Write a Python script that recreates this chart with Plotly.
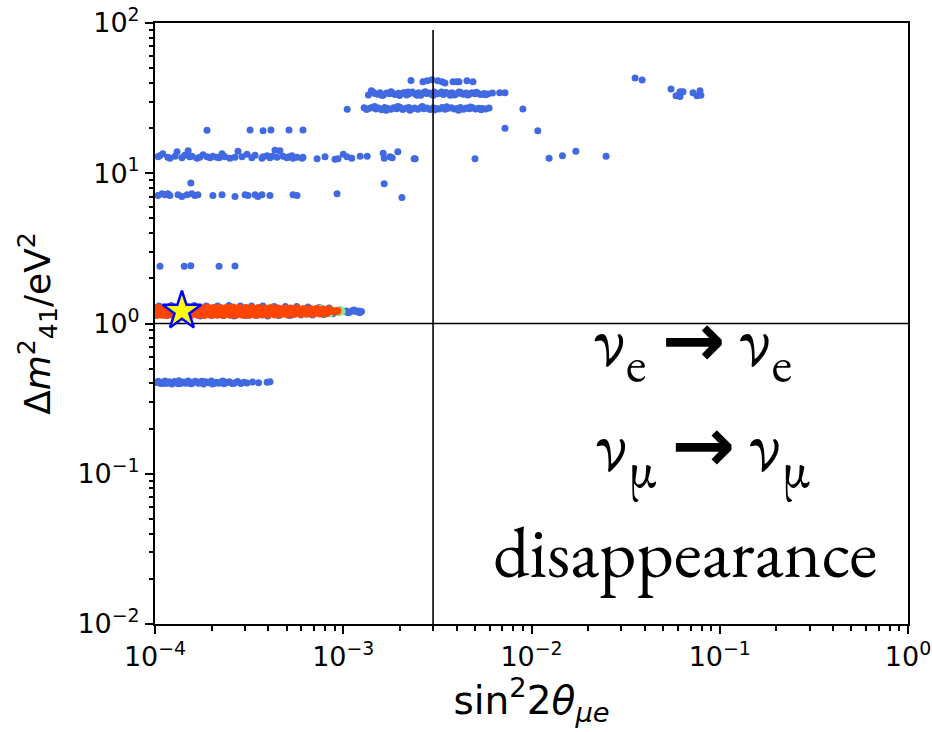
import plotly.graph_objects as go

# ---------------- data ----------------
# blue points: band near dm2 ~ 13 eV^2
b13_x = [1.037e-4, 1.06e-4, 1.10e-4, 1.17e-4, 1.20e-4, 1.28e-4, 1.31e-4, 1.39e-4, 1.44e-4, 1.50e-4,
         1.53e-4, 1.57e-4, 1.67e-4, 1.73e-4, 1.80e-4, 1.89e-4, 1.96e-4, 2.03e-4, 2.13e-4, 2.19e-4,
         2.27e-4, 2.35e-4, 2.50e-4, 2.66e-4, 2.76e-4, 2.90e-4, 3.08e-4, 3.27e-4, 3.40e-4, 3.70e-4,
         3.75e-4, 3.94e-4, 4.08e-4, 4.19e-4, 4.34e-4, 4.45e-4, 4.61e-4, 4.79e-4, 5.02e-4, 5.15e-4,
         5.34e-4, 5.41e-4, 5.68e-4, 6.04e-4, 6.11e-4, 7.26e-4, 8.00e-4, 9.04e-4, 9.38e-4, 1.00e-3,
         1.047e-3, 1.11e-3, 1.23e-3, 1.34e-3, 1.63e-3, 1.65e-3, 1.77e-3, 1.82e-3, 1.95e-3, 2.38e-3,
         2.41e-3, 5.01e-3, 1.24e-2, 1.46e-2, 1.72e-2, 2.49e-2]
b13_y = [12.9, 13.1, 13.5, 12.8, 12.6, 13.0, 13.9, 12.7, 13.2, 14.1,
         12.9, 13.0, 12.6, 12.8, 13.3, 12.9, 12.7, 13.0, 12.8, 12.7,
         13.5, 12.9, 12.6, 12.8, 14.0, 12.9, 13.4, 12.7, 13.2, 12.6,
         12.9, 13.1, 12.7, 13.0, 14.2, 12.8, 14.1, 13.0, 12.7, 12.9,
         13.1, 12.6, 12.8, 12.6, 12.8, 12.5, 12.9, 12.4, 12.5, 13.4,
         12.9, 12.6, 13.0, 13.0, 13.6, 12.6, 12.9, 12.7, 13.9, 12.5,
         12.5, 12.5, 12.6, 13.1, 14.0, 13.0]

# blue points: band near 7.2 eV^2 and stragglers
b7_x = [1.037e-4, 1.09e-4, 1.13e-4, 1.17e-4, 1.20e-4, 1.325e-4, 1.39e-4, 1.48e-4, 1.57e-4, 1.63e-4,
        1.69e-4, 2.03e-4, 2.27e-4, 2.66e-4, 3.01e-4, 3.12e-4, 3.40e-4, 3.52e-4, 3.70e-4, 4.08e-4,
        5.41e-4, 5.68e-4, 9.27e-4, 1.55e-4, 1.65e-3, 2.05e-3]
b7_y = [7.1, 7.3, 7.2, 7.3, 7.1, 7.2, 7.0, 7.2, 7.3, 7.1,
        7.2, 7.1, 7.2, 7.0, 7.2, 7.1, 7.2, 7.0, 7.2, 7.1,
        7.2, 7.1, 7.3, 8.6, 8.5, 6.9]

# blue points near 19-20 eV^2
b19_x = [1.89e-4, 3.20e-4, 3.75e-4, 4.13e-4, 5.15e-4, 6.11e-4, 7.23e-3, 1.08e-2]
b19_y = [19.3, 19.4, 19.2, 19.4, 19.4, 19.4, 19.9, 19.2]

# blue points near 2.4 eV^2
b24_x = [1.063e-4, 1.43e-4, 1.55e-4, 2.19e-4, 2.66e-4]
b24_y = [2.4, 2.4, 2.42, 2.4, 2.41]

# blue points: band near 0.4 eV^2
b04_x = [1.01e-4, 1.04e-4, 1.07e-4, 1.10e-4, 1.13e-4, 1.16e-4, 1.19e-4, 1.23e-4, 1.27e-4, 1.30e-4,
         1.34e-4, 1.37e-4, 1.42e-4, 1.46e-4, 1.50e-4, 1.55e-4, 1.59e-4, 1.64e-4, 1.70e-4, 1.75e-4,
         1.81e-4, 1.86e-4, 1.93e-4, 1.99e-4, 2.05e-4, 2.12e-4, 2.18e-4, 2.26e-4, 2.33e-4, 2.41e-4,
         2.48e-4, 2.57e-4, 2.66e-4, 2.75e-4, 2.86e-4, 2.97e-4, 3.08e-4, 3.30e-4, 3.55e-4, 3.94e-4,
         4.08e-4, 1.12e-4, 1.33e-4, 1.57e-4, 1.78e-4, 2.02e-4, 2.30e-4, 2.61e-4]
b04_y = [0.405, 0.412, 0.398, 0.407, 0.415, 0.400, 0.409, 0.396, 0.411, 0.404,
         0.416, 0.399, 0.408, 0.401, 0.414, 0.397, 0.406, 0.412, 0.400, 0.409,
         0.396, 0.410, 0.403, 0.414, 0.399, 0.407, 0.401, 0.411, 0.397, 0.405,
         0.409, 0.399, 0.404, 0.411, 0.398, 0.406, 0.402, 0.408, 0.404, 0.407,
         0.410, 0.398, 0.397, 0.399, 0.413, 0.396, 0.414, 0.398]

# blue points: row near 41 eV^2
b41_x = [2.29e-3, 2.65e-3, 2.79e-3, 2.96e-3, 3.18e-3, 3.35e-3, 3.47e-3, 3.83e-3, 4.02e-3, 4.12e-3,
         4.54e-3, 4.89e-3]
b41_y = [41.5, 40.7, 41.3, 41.9, 41.3, 40.7, 39.9, 40.7, 40.7, 40.7, 41.3, 40.7]

# blue points: row near 34 eV^2
b34_x = [1.36e-3, 1.41e-3, 1.47e-3, 1.52e-3, 1.57e-3, 1.63e-3, 1.70e-3, 1.76e-3, 1.81e-3, 1.88e-3,
         1.96e-3, 2.02e-3, 2.10e-3, 2.17e-3, 2.26e-3, 2.33e-3, 2.43e-3, 2.51e-3, 2.58e-3, 2.69e-3,
         2.77e-3, 2.86e-3, 2.97e-3, 3.05e-3, 3.16e-3, 3.27e-3, 3.40e-3, 3.51e-3, 3.63e-3, 3.78e-3,
         3.90e-3, 4.05e-3, 4.19e-3, 4.33e-3, 4.50e-3, 4.66e-3, 4.82e-3, 5.00e-3, 5.19e-3, 5.37e-3,
         5.60e-3, 5.85e-3, 6.20e-3, 6.77e-3, 7.23e-3,
         1.44e-3, 1.60e-3, 1.79e-3, 1.99e-3, 2.21e-3, 2.47e-3, 2.73e-3, 3.01e-3, 3.33e-3, 3.70e-3,
         4.11e-3, 4.58e-3, 5.09e-3, 5.70e-3]
b34_y = [33.2, 35.4, 34.0, 33.6, 34.4, 33.0, 34.2, 33.8, 34.6, 33.4,
         34.1, 33.7, 34.5, 33.2, 34.0, 34.8, 33.5, 34.3, 33.1, 34.6,
         33.9, 34.2, 33.3, 34.7, 33.8, 34.1, 33.4, 34.5, 33.9, 34.3,
         33.2, 34.0, 34.6, 33.6, 34.2, 33.5, 34.4, 33.8, 34.1, 33.4,
         34.0, 33.7, 34.2, 34.4, 34.4,
         34.8, 33.0, 34.9, 32.9, 34.8, 33.0, 34.9, 33.1, 34.8, 33.0,
         34.7, 33.2, 34.6, 33.3]

# blue points: row near 27 eV^2
b27_x = [1.05e-3, 1.29e-3, 1.33e-3, 1.38e-3, 1.43e-3, 1.49e-3, 1.54e-3, 1.60e-3, 1.66e-3, 1.72e-3,
         1.79e-3, 1.85e-3, 1.92e-3, 2.00e-3, 2.07e-3, 2.15e-3, 2.23e-3, 2.31e-3, 2.40e-3, 2.49e-3,
         2.59e-3, 2.68e-3, 2.78e-3, 2.89e-3, 3.00e-3, 3.11e-3, 3.23e-3, 3.35e-3, 3.48e-3, 3.61e-3,
         3.75e-3, 3.89e-3, 4.03e-3, 4.19e-3, 4.35e-3, 4.51e-3, 4.68e-3, 4.86e-3, 5.04e-3, 5.25e-3,
         5.48e-3, 5.72e-3, 5.95e-3, 9.0e-3,
         1.47e-3, 1.69e-3, 1.95e-3, 2.26e-3, 2.63e-3, 3.05e-3, 3.54e-3, 4.10e-3, 4.74e-3, 5.40e-3]
b27_y = [26.7, 27.3, 26.6, 27.1, 27.5, 26.8, 27.2, 26.5, 27.4, 27.0,
         26.7, 27.3, 26.9, 27.5, 26.6, 27.1, 27.4, 26.8, 27.2, 26.7,
         27.4, 26.9, 27.2, 26.6, 27.3, 27.0, 26.8, 27.4, 26.7, 27.1,
         27.3, 26.8, 27.0, 27.4, 26.7, 27.2, 26.9, 27.3, 26.8, 27.1,
         27.0, 26.8, 27.2, 26.8,
         27.8, 26.3, 27.8, 26.3, 27.8, 26.4, 27.7, 26.3, 27.6, 26.5]

# blue points: cluster at large mixing
bR_x = [3.55e-2, 3.87e-2, 5.51e-2, 5.86e-2, 6.15e-2, 6.15e-2, 6.38e-2, 7.21e-2, 7.57e-2, 7.85e-2, 7.94e-2]
bR_y = [43.0, 41.8, 36.4, 32.8, 32.4, 34.9, 34.9, 34.4, 32.8, 35.4, 33.1]

# blue points around the best-fit band (fringe and tail)
bB_x = [1.00e-4, 1.15e-4, 1.32e-4, 1.52e-4, 1.74e-4, 2.00e-4, 2.30e-4, 2.63e-4, 3.02e-4, 3.46e-4,
        3.97e-4, 4.55e-4, 5.22e-4, 5.98e-4, 6.86e-4, 7.86e-4, 8.80e-4,
        1.05e-4, 1.22e-4, 1.41e-4, 1.62e-4, 1.87e-4, 2.15e-4, 2.47e-4, 2.84e-4, 3.26e-4, 3.74e-4,
        4.30e-4, 4.93e-4, 5.66e-4, 6.50e-4, 7.45e-4, 8.40e-4,
        1.00e-3, 1.04e-3, 1.08e-3, 1.12e-3, 1.16e-3, 1.20e-3, 1.25e-3, 1.06e-3, 1.14e-3, 1.22e-3]
bB_y = [1.13, 1.13, 1.12, 1.13, 1.12, 1.13, 1.13, 1.12, 1.13, 1.13,
        1.12, 1.13, 1.13, 1.14, 1.14, 1.15, 1.16,
        1.31, 1.32, 1.31, 1.32, 1.31, 1.31, 1.32, 1.31, 1.31, 1.31,
        1.30, 1.30, 1.30, 1.29, 1.28, 1.27,
        1.20, 1.21, 1.19, 1.22, 1.20, 1.21, 1.20, 1.18, 1.23, 1.18]

# green points (under the orange band)
green_x = [9.0e-4, 9.4e-4, 9.8e-4, 9.6e-4, 2.1e-4, 4.1e-4, 6.2e-4, 7.6e-4, 8.5e-4]
green_y = [1.21, 1.19, 1.20, 1.23, 1.15, 1.28, 1.16, 1.26, 1.17]

# orange points (dense band near the best fit)
orange_x = [1.00e-4, 1.04e-4, 1.08e-4, 1.12e-4, 1.17e-4, 1.21e-4, 1.26e-4, 1.31e-4, 1.36e-4, 1.42e-4,
            1.47e-4, 1.53e-4, 1.59e-4, 1.66e-4, 1.72e-4, 1.79e-4, 1.86e-4, 1.94e-4, 2.01e-4, 2.09e-4,
            2.18e-4, 2.26e-4, 2.35e-4, 2.45e-4, 2.54e-4, 2.65e-4, 2.75e-4, 2.86e-4, 2.98e-4, 3.10e-4,
            3.22e-4, 3.35e-4, 3.49e-4, 3.63e-4, 3.77e-4, 3.93e-4, 4.08e-4, 4.25e-4, 4.42e-4, 4.60e-4,
            4.78e-4, 4.97e-4, 5.17e-4, 5.38e-4, 5.60e-4, 5.82e-4, 6.06e-4, 6.30e-4, 6.55e-4, 6.82e-4,
            7.09e-4, 7.38e-4, 7.67e-4, 7.98e-4, 8.30e-4, 8.63e-4, 8.98e-4, 9.30e-4,
            1.02e-4, 1.10e-4, 1.19e-4, 1.28e-4, 1.39e-4, 1.50e-4, 1.62e-4, 1.75e-4, 1.90e-4, 2.05e-4,
            2.22e-4, 2.40e-4, 2.60e-4, 2.80e-4, 3.04e-4, 3.28e-4, 3.55e-4, 3.85e-4, 4.16e-4, 4.50e-4,
            4.87e-4, 5.27e-4, 5.70e-4, 6.17e-4, 6.68e-4, 7.22e-4, 7.82e-4, 8.45e-4,
            1.03e-4, 1.09e-4, 1.16e-4, 1.24e-4, 1.33e-4, 1.44e-4, 1.56e-4, 1.69e-4, 1.83e-4, 1.98e-4,
            2.14e-4, 2.31e-4, 2.50e-4, 2.70e-4, 2.92e-4, 3.16e-4, 3.42e-4, 3.70e-4, 4.00e-4, 4.33e-4,
            4.68e-4, 5.06e-4, 5.48e-4, 5.93e-4, 6.42e-4, 6.94e-4, 7.51e-4, 8.12e-4]
orange_y = [1.20, 1.21, 1.19, 1.20, 1.21, 1.20, 1.19, 1.20, 1.21, 1.20,
            1.19, 1.20, 1.21, 1.20, 1.20, 1.19, 1.21, 1.20, 1.20, 1.21,
            1.19, 1.20, 1.21, 1.20, 1.19, 1.20, 1.21, 1.20, 1.20, 1.19,
            1.21, 1.20, 1.20, 1.21, 1.19, 1.20, 1.20, 1.21, 1.20, 1.19,
            1.20, 1.21, 1.20, 1.20, 1.19, 1.21, 1.20, 1.20, 1.21, 1.20,
            1.19, 1.20, 1.21, 1.20, 1.20, 1.21, 1.20, 1.21,
            1.27, 1.27, 1.28, 1.27, 1.27, 1.28, 1.27, 1.27, 1.28, 1.27,
            1.27, 1.27, 1.28, 1.27, 1.27, 1.27, 1.27, 1.26, 1.27, 1.26,
            1.26, 1.26, 1.26, 1.25, 1.25, 1.25, 1.24, 1.24,
            1.145, 1.145, 1.14, 1.145, 1.145, 1.14, 1.145, 1.145, 1.14, 1.145,
            1.145, 1.14, 1.145, 1.145, 1.145, 1.14, 1.145, 1.15, 1.15, 1.15,
            1.155, 1.15, 1.155, 1.16, 1.16, 1.16, 1.165, 1.17]

# best-fit star
star_x = [1.39e-4]
star_y = [1.21]

# reference lines
vline_x = [3.0e-3, 3.0e-3]
vline_y = [1.0e-2, 90.0]
hline_x = [1.0e-4, 1.0]
hline_y = [1.0, 1.0]

# axis ticks
x_tickvals = [1e-4, 1e-3, 1e-2, 1e-1, 1e0]
x_ticktext = ["10<sup>\u22124</sup>", "10<sup>\u22123</sup>", "10<sup>\u22122</sup>",
              "10<sup>\u22121</sup>", "10<sup>0</sup>"]
y_tickvals = [1e-2, 1e-1, 1e0, 1e1, 1e2]
y_ticktext = ["10<sup>\u22122</sup>", "10<sup>\u22121</sup>", "10<sup>0</sup>",
              "10<sup>1</sup>", "10<sup>2</sup>"]
x_minor = [m * 10.0 ** e for e in range(-4, 0) for m in range(2, 10)]
y_minor = [m * 10.0 ** e for e in range(-2, 2) for m in range(2, 10)]

# ---------------- figure ----------------
BLUE = "#4169E1"
fig = go.Figure()

blue_x = b13_x + b7_x + b19_x + b24_x + b04_x + b41_x + b34_x + b27_x + bR_x + bB_x
blue_y = b13_y + b7_y + b19_y + b24_y + b04_y + b41_y + b34_y + b27_y + bR_y + bB_y

fig.add_trace(go.Scatter(x=blue_x, y=blue_y, mode="markers",
                         marker=dict(color=BLUE, size=7, line=dict(width=0)),
                         showlegend=False, hoverinfo="skip"))
fig.add_trace(go.Scatter(x=green_x, y=green_y, mode="markers",
                         marker=dict(color="#8FE388", size=8, line=dict(width=0)),
                         showlegend=False, hoverinfo="skip"))
fig.add_trace(go.Scatter(x=orange_x, y=orange_y, mode="markers",
                         marker=dict(color="#FF4500", size=8, line=dict(width=0)),
                         showlegend=False, hoverinfo="skip"))
fig.add_trace(go.Scatter(x=vline_x, y=vline_y, mode="lines",
                         line=dict(color="black", width=1.6),
                         showlegend=False, hoverinfo="skip"))
fig.add_trace(go.Scatter(x=hline_x, y=hline_y, mode="lines",
                         line=dict(color="black", width=1.6),
                         showlegend=False, hoverinfo="skip"))
fig.add_trace(go.Scatter(x=star_x, y=star_y, mode="markers",
                         marker=dict(symbol="star", color="yellow", size=29,
                                     line=dict(color="#0000FF", width=2.5)),
                         showlegend=False, hoverinfo="skip"))

tickfont = dict(family="DejaVu Sans", size=27, color="black")
axis_common = dict(type="log", showgrid=False, zeroline=False, showline=True,
                   linecolor="black", linewidth=2, mirror=True, automargin=False,
                   ticks="outside", ticklen=8, tickwidth=2, tickcolor="black",
                   tickfont=tickfont, tickmode="array")

fig.update_xaxes(**axis_common, range=[-4, 0], tickvals=x_tickvals, ticktext=x_ticktext,
                 minor=dict(tickmode="array", tickvals=x_minor, ticks="outside",
                            ticklen=4.5, tickwidth=1.5, tickcolor="black"),
                 title=dict(text="sin<sup>2</sup>2<i>\u03b8</i><sub><i>\u03bce</i></sub>",
                            font=dict(family="DejaVu Sans", size=39, color="black"),
                            standoff=6))
fig.update_yaxes(**axis_common, range=[-2, 2], tickvals=y_tickvals, ticktext=y_ticktext,
                 minor=dict(tickmode="array", tickvals=y_minor, ticks="outside",
                            ticklen=4.5, tickwidth=1.5, tickcolor="black"),
                 title=dict(text="\u0394<i>m</i><sup>2</sup><sub>41</sub>/eV<sup>2</sup>",
                            font=dict(family="DejaVu Sans", size=36, color="black"),
                            standoff=16))

serif = "EB Garamond, Garamond, Liberation Serif, serif"
arrow = "<span style='font-family:DejaVu Sans'><b>\u2192</b></span>"
fig.add_annotation(text="\u03bd<sub>e</sub> " + arrow + " \u03bd<sub>e</sub>",
                   xref="paper", yref="paper", x=0.714, y=0.466, xanchor="center", yanchor="middle",
                   showarrow=False, font=dict(family=serif, size=76, color="black"))
fig.add_annotation(text="\u03bd<sub>\u03bc</sub> " + arrow + " \u03bd<sub>\u03bc</sub>",
                   xref="paper", yref="paper", x=0.728, y=0.292, xanchor="center", yanchor="middle",
                   showarrow=False, font=dict(family=serif, size=76, color="black"))
fig.add_annotation(text="disappearance",
                   xref="paper", yref="paper", x=0.704, y=0.122, xanchor="center", yanchor="middle",
                   showarrow=False, font=dict(family=serif, size=72, color="black"))

fig.update_layout(width=932, height=732, autosize=False,
                  margin=dict(l=155, r=24, t=23, b=108),
                  paper_bgcolor="white", plot_bgcolor="white",
                  showlegend=False)

fig.write_html("out.html")
